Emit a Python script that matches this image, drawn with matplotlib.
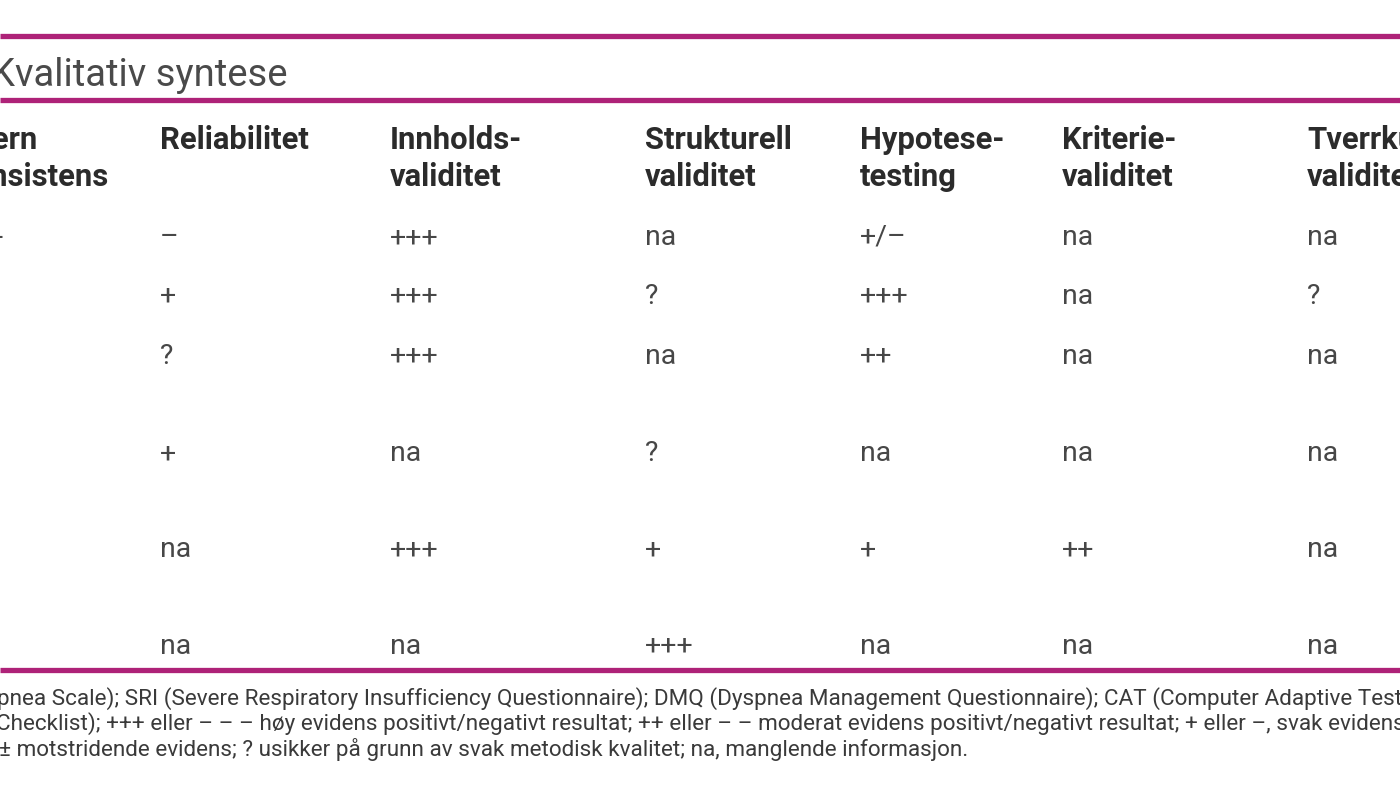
import matplotlib
matplotlib.use("Agg")
import matplotlib.pyplot as plt
from matplotlib import font_manager

# ---------------- data ----------------
title = "Kvalitativ syntese"
headers = [("Intern", "konsistens"), ("Reliabilitet", ""), ("Innholds-", "validitet"),
           ("Strukturell", "validitet"), ("Hypotese-", "testing"), ("Kriterie-", "validitet"),
           ("Tverrkulturell", "validitet")]
intern_konsistens = ["+++", "na", "++", "++", "++", "++"]
reliabilitet = ["–", "+", "?", "+", "na", "na"]
innholdsvaliditet = ["+++", "+++", "+++", "na", "+++", "na"]
strukturell_validitet = ["na", "?", "na", "?", "+", "+++"]
hypotesetesting = ["+/–", "+++", "++", "na", "+", "na"]
kriterievaliditet = ["na", "na", "na", "na", "++", "na"]
tverrkulturell_validitet = ["na", "?", "na", "na", "na", "na"]
footnotes = [
    "Dyspnea Scale); SRI (Severe Respiratory Insufficiency Questionnaire); DMQ (Dyspnea Management Questionnaire); CAT (Computer Adaptive Test); MDP (Multidimensional Dyspnea Profile)",
    "Checklist); +++ eller – – – høy evidens positivt/negativt resultat; ++ eller – – moderat evidens positivt/negativt resultat; + eller –, svak evidens positivt/negativt resultat;",
    "± motstridende evidens; ? usikker på grunn av svak metodisk kvalitet; na, manglende informasjon.",
]

columns = [intern_konsistens, reliabilitet, innholdsvaliditet, strukturell_validitet,
           hypotesetesting, kriterievaliditet, tverrkulturell_validitet]

# ---------------- layout ----------------
W, H = 1400, 786
col_x = [-44, 160, 390, 645, 860, 1062, 1307]
header_y = [149, 186]
row_base = [245, 304, 364, 461, 557, 654]
rule_y = [36, 100, 670]
foot_x = [-40, -4, -1]
foot_y = [705, 730, 756]
magenta = "#AE2278"

names = {f.name for f in font_manager.fontManager.ttflist}
body = "Roboto" if "Roboto" in names else "DejaVu Sans"

fig = plt.figure(figsize=(W / 100, H / 100), dpi=100)
ax = fig.add_axes([0, 0, 1, 1])
ax.set_xlim(0, W)
ax.set_ylim(H, 0)
ax.axis("off")

for y in rule_y:
    ax.axhline(y, color=magenta, lw=3.8, solid_capstyle="butt")

ax.text(-9, 86, title, family=body, weight="normal", fontsize=27.5,
        color="#4a4a4a", va="baseline", ha="left")

for x, (l1, l2) in zip(col_x, headers):
    ax.text(x, header_y[0], l1, family=body, weight="bold", fontsize=22.3,
            color="#2b2b2b", va="baseline", ha="left")
    if l2:
        ax.text(x, header_y[1], l2, family=body, weight="bold", fontsize=22.3,
                color="#2b2b2b", va="baseline", ha="left")

for x, vals in zip(col_x, columns):
    for y, v in zip(row_base, vals):
        ax.text(x, y, v, family=body, weight="normal", fontsize=20.5,
                color="#474747", va="baseline", ha="left")

for x, y, t in zip(foot_x, foot_y, footnotes):
    ax.text(x, y, t, family=body, fontsize=16.2, color="#3a3a3a",
            va="baseline", ha="left")

fig.savefig("out.png", dpi=100, facecolor="white")
